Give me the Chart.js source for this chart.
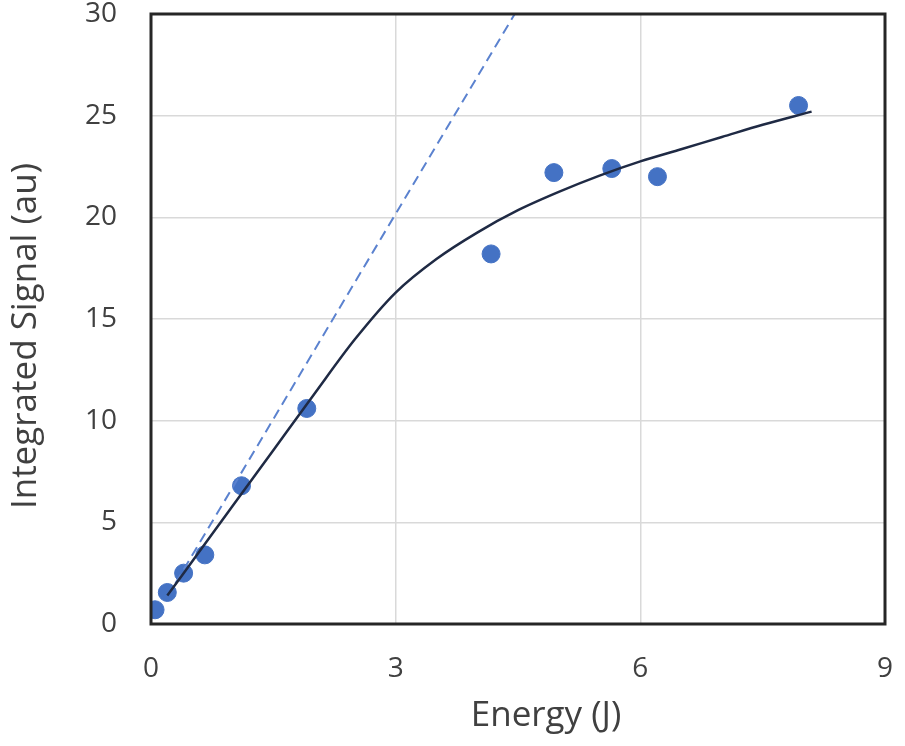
<!DOCTYPE html>
<html>
<head>
<meta charset="utf-8">
<script src="https://cdn.jsdelivr.net/npm/chart.js@4"></script>
<style>
  html, body { margin: 0; padding: 0; background: #fff; }
  #wrap { width: 905px; height: 746px; }
</style>
</head>
<body>
<div id="wrap"><canvas id="chart"></canvas></div>
<script>
// measured points
const energy = [0.05, 0.2, 0.4, 0.66, 1.11, 1.91, 4.17, 4.94, 5.65, 6.21, 7.94];
const signal = [0.7, 1.55, 2.5, 3.4, 6.8, 10.6, 18.2, 22.2, 22.4, 22.0, 25.5];

// fitted curve
const fitX = [0.2, 0.6, 1.0, 1.5, 2.0, 2.5, 3.0, 3.5, 4.0, 4.5, 5.0, 5.5, 6.0, 6.5, 7.0, 7.5, 8.1];
const fitY = [1.4, 3.6, 5.8, 8.55, 11.3, 14.0, 16.3, 17.95, 19.25, 20.35, 21.25, 22.05, 22.75, 23.35, 23.95, 24.55, 25.2];

// linear (dashed) line
const linX = [0.3, 4.46];
const linY = [2.0, 30];

const xTicks = [0, 3, 6, 9];
const textColor = '#404040';
const fontFamily = '"Open Sans", "Noto Sans", sans-serif';

function toPoints(xs, ys) {
    return xs.map((x, i) => ({ x: x, y: ys[i] }));
}

// frame + axis titles
const framePlugin = {
    id: 'frame',
    afterDraw(chart) {
        const ctx = chart.ctx;
        const a = chart.chartArea;
        ctx.save();
        ctx.strokeStyle = '#262626';
        ctx.lineWidth = 3;
        ctx.strokeRect(a.left, a.top, a.right - a.left, a.bottom - a.top);

        ctx.fillStyle = textColor;
        ctx.font = '35px ' + fontFamily;
        ctx.textAlign = 'center';
        ctx.textBaseline = 'middle';
        ctx.fillText('Energy (J)', 546, 716);

        ctx.translate(26, 336);
        ctx.rotate(-Math.PI / 2);
        ctx.fillText('Integrated Signal (au)', 0, 0);
        ctx.restore();
    }
};

const ctx = document.getElementById('chart').getContext('2d');
const chart = new Chart(ctx, {
    type: 'scatter',
    data: {
        datasets: [
            {
                label: 'Fit',
                data: toPoints(fitX, fitY),
                showLine: true,
                borderColor: '#1f2a44',
                borderWidth: 2.5,
                pointRadius: 0,
                cubicInterpolationMode: 'monotone',
                order: 0
            },
            {
                label: 'Linear',
                data: toPoints(linX, linY),
                showLine: true,
                borderColor: '#5b82cf',
                borderWidth: 2,
                borderDash: [10, 6],
                pointRadius: 0,
                order: 1
            },
            {
                label: 'Data',
                data: toPoints(energy, signal),
                backgroundColor: '#4472c4',
                borderColor: '#4472c4',
                pointRadius: 9,
                order: 2
            }
        ]
    },
    options: {
        responsive: true,
        maintainAspectRatio: false,
        animation: false,
        layout: { padding: { top: 14, right: 20, left: 0, bottom: 0 } },
        plugins: {
            legend: { display: false },
            tooltip: { enabled: false }
        },
        scales: {
            x: {
                type: 'linear',
                min: 0,
                max: 9,
                afterBuildTicks(scale) {
                    scale.ticks = xTicks.map(v => ({ value: v }));
                },
                afterFit(scale) {
                    scale.height = 122;
                    scale.paddingLeft = 0;
                    scale.paddingRight = 0;
                },
                grid: { color: '#d9d9d9', lineWidth: 1.5, drawTicks: false },
                border: { display: false },
                ticks: {
                    color: textColor,
                    padding: 28,
                    font: { family: fontFamily, size: 28 }
                }
            },
            y: {
                min: 0,
                max: 30,
                afterFit(scale) {
                    scale.width = 151;
                    scale.paddingTop = 0;
                    scale.paddingBottom = 0;
                },
                grid: { color: '#d9d9d9', lineWidth: 1.5, drawTicks: false },
                border: { display: false },
                ticks: {
                    stepSize: 5,
                    color: textColor,
                    padding: 34,
                    font: { family: fontFamily, size: 28 }
                }
            }
        }
    },
    plugins: [framePlugin]
});
</script>
</body>
</html>
